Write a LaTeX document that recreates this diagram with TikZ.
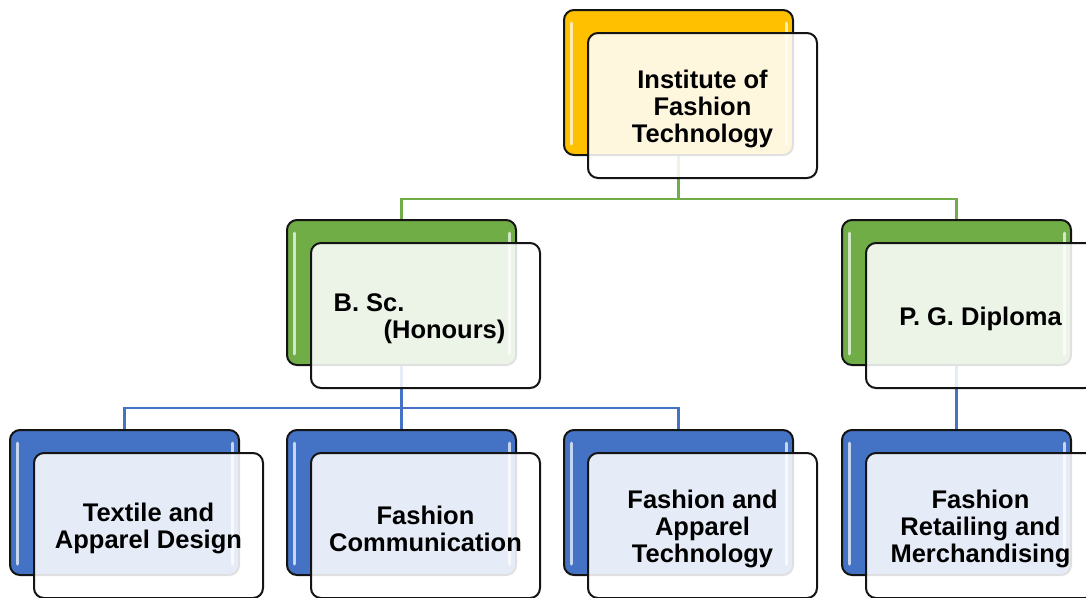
\documentclass[tikz,border=0pt]{standalone}
\usepackage{fontspec}
\setmainfont{Liberation Sans}
\usetikzlibrary{calc,backgrounds}
\definecolor{ygold}{RGB}{255,192,0}
\definecolor{ggreen}{RGB}{112,173,71}
\definecolor{bblue}{RGB}{68,114,196}
\definecolor{edgec}{RGB}{20,20,20}
\tikzset{
 backbox/.style={draw=edgec, line width=2pt, rounded corners=10pt, minimum width=229pt, minimum height=145pt, inner sep=0pt, fill=#1},
 frontbox/.style={draw=edgec, line width=2pt, rounded corners=10pt, minimum width=229pt, minimum height=145pt, inner sep=0pt, fill=white, fill opacity=0.87, text opacity=1, align=center, font=\bfseries\fontsize{25.5}{27}\selectfont},
 glint/.style={line width=3pt, line cap=round, draw=#1!30!white},
 conn/.style={line width=2.5pt, draw=#1},
}
\newcommand{\twinbox}[6]{%
 \node[backbox=#4] (#1b) at (#2,#3) {};
 \draw[glint=#4] ($(#1b.north west)+(8,14)$) -- ($(#1b.south west)+(8,-12)$);
 \draw[glint=#4] ($(#1b.north east)+(-8,14)$) -- ($(#1b.south east)+(-8,-12)$);
 \node[frontbox,#5] (#1) at (#2+24,#3+23) {\rule{0pt}{25pt}#6};
}
\begin{document}
\begin{tikzpicture}[x=1pt,y=-1pt]
\useasboundingbox (0,0) rectangle (1086,597);
\twinbox{ift}{678.5}{82.5}{ygold}{}{Institute of\\Fashion\\Technology}
\twinbox{bsc}{401.5}{292.5}{ggreen}{align=left}{B. Sc.\\\hspace*{50pt}(Honours)\hspace*{12pt}}
\twinbox{pg}{956.5}{292.5}{ggreen}{}{P. G. Diploma}
\twinbox{tad}{124.5}{502.5}{bblue}{}{Textile and\\Apparel Design}
\twinbox{fc}{401.5}{502.5}{bblue}{}{Fashion\\Communication}
\twinbox{fat}{678.5}{502.5}{bblue}{}{Fashion and\\Apparel\\Technology}
\twinbox{frm}{956.5}{502.5}{bblue}{}{Fashion\\Retailing and\\Merchandising}
\begin{scope}[on background layer]
\coordinate (gy) at (678.5,199);
\coordinate (by) at (401.5,408);
\draw[conn=ggreen] (iftb.south) -- (gy);
\draw[conn=ggreen] (bscb.north) |- (gy) -| (pgb.north);
\draw[conn=bblue] (tadb.north) |- (by) -| (fatb.north);
\draw[conn=bblue] (bscb.south) -- (fcb.north);
\draw[conn=bblue] (pgb.south) -- (frmb.north);
\end{scope}
\end{tikzpicture}
\end{document}
